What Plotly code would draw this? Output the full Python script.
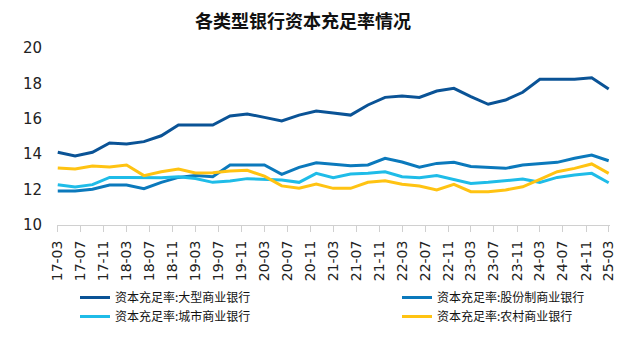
import pandas as pd
import plotly.graph_objects as go

quarters = pd.date_range("2017-03-01", "2025-03-01", freq="3MS")

large_banks = [14.11, 13.90, 14.11, 14.63, 14.58, 14.71, 15.04, 15.65, 15.65, 15.65,
               16.16, 16.27, 16.08, 15.88, 16.21, 16.44, 16.33, 16.21, 16.78, 17.21,
               17.29, 17.21, 17.57, 17.72, 17.25, 16.82, 17.06, 17.50, 18.23, 18.23,
               18.23, 18.32, 17.68]
joint_stock = [11.92, 11.92, 12.02, 12.26, 12.26, 12.05, 12.41, 12.69, 12.79, 12.73,
               13.39, 13.39, 13.39, 12.86, 13.26, 13.52, 13.45, 13.35, 13.39, 13.77,
               13.56, 13.26, 13.48, 13.54, 13.31, 13.26, 13.20, 13.39, 13.48, 13.54,
               13.77, 13.95, 13.63]
city_banks = [12.28, 12.15, 12.28, 12.69, 12.69, 12.69, 12.67, 12.73, 12.63, 12.41,
              12.49, 12.62, 12.58, 12.54, 12.41, 12.92, 12.67, 12.88, 12.92, 13.01,
              12.73, 12.67, 12.79, 12.58, 12.35, 12.41, 12.49, 12.60, 12.41, 12.69,
              12.82, 12.92, 12.39]
rural_banks = [13.22, 13.16, 13.33, 13.28, 13.39, 12.79, 13.01, 13.16, 12.94, 12.95,
               13.05, 13.09, 12.76, 12.21, 12.08, 12.32, 12.07, 12.07, 12.41, 12.50,
               12.30, 12.20, 11.98, 12.30, 11.88, 11.88, 11.98, 12.16, 12.58, 13.01,
               13.20, 13.45, 12.92]

names = ["资本充足率:大型商业银行", "资本充足率:股份制商业银行",
         "资本充足率:城市商业银行", "资本充足率:农村商业银行"]
series = [large_banks, joint_stock, city_banks, rural_banks]
colors = ["#0A5396", "#0B79BC", "#1FBCE8", "#FFC312"]
legends = ["legend", "legend2", "legend", "legend2"]

fig = go.Figure()
for name, vals, col, lg in zip(names, series, colors, legends):
    fig.add_trace(go.Scatter(x=quarters, y=vals, name=name, mode="lines",
                             line=dict(color=col, width=3), legend=lg))

cjk = "Noto Sans CJK SC"
fig.update_layout(
    width=636, height=339,
    margin=dict(l=57, r=26, t=48, b=114, autoexpand=False),
    paper_bgcolor="white", plot_bgcolor="white",
    title=dict(text="<b>各类型银行资本充足率情况</b>", x=303/636, xanchor="center",
               y=1-22/339, yanchor="middle",
               font=dict(family=cjk, size=18, color="#111111")),
    xaxis=dict(type="date", range=["2017-02-25", "2025-03-08"],
               tick0="2017-03-01", dtick="M4", tickformat="%y-%m",
               tickangle=-90, ticks="outside", ticklen=6, tickcolor="#D0D0D0",
               ticklabelstandoff=3,
               showline=True, linecolor="#D0D0D0", linewidth=1,
               showgrid=False, zeroline=False, automargin=False,
               tickfont=dict(family="DejaVu Sans", size=14, color="#222222")),
    yaxis=dict(range=[10, 20], dtick=2, showgrid=False, zeroline=False,
               showline=False, ticks="", ticklabelstandoff=14, automargin=False,
               tickfont=dict(family="DejaVu Sans", size=15, color="#222222")),
    legend=dict(xref="container", yref="container", x=75/636, y=1-283/339,
                xanchor="left", yanchor="top", orientation="v",
                font=dict(family=cjk, size=12, color="#111111"),
                bgcolor="rgba(0,0,0,0)", tracegroupgap=0),
    legend2=dict(xref="container", yref="container", x=397/636, y=1-283/339,
                 xanchor="left", yanchor="top", orientation="v",
                 font=dict(family=cjk, size=12, color="#111111"),
                 bgcolor="rgba(0,0,0,0)", tracegroupgap=0),
    showlegend=True,
)

fig.write_html("out.html")
